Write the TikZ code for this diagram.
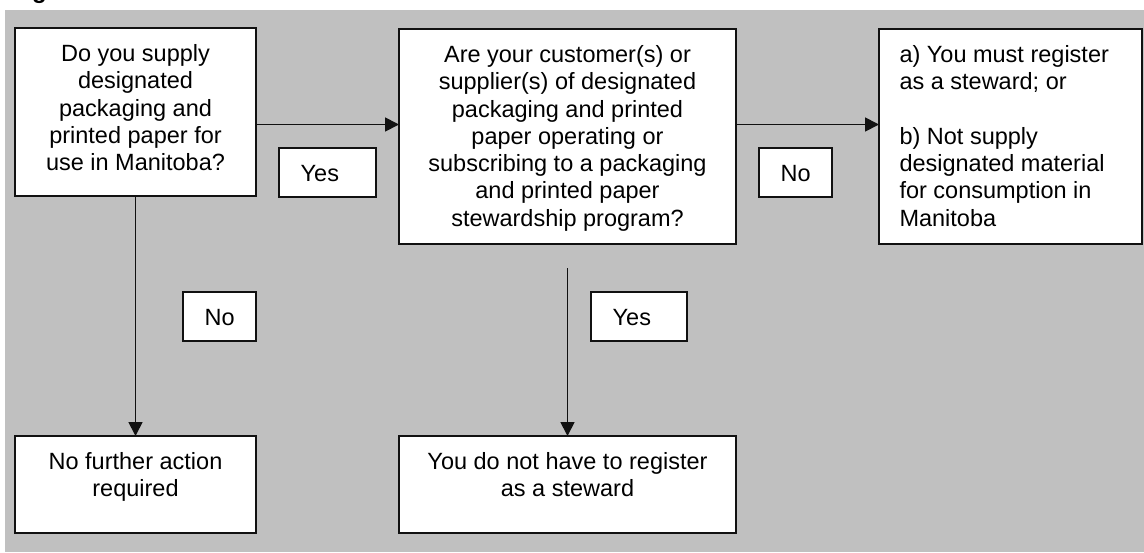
\documentclass[tikz,border=0pt]{standalone}
\usepackage{fontspec}
\setmainfont{Liberation Sans}
\usetikzlibrary{arrows.meta}

\definecolor{panel}{HTML}{C0C0C0}
\definecolor{ink}{HTML}{111111}

\begin{document}
\begin{tikzpicture}[x=1pt, y=-1pt,
  card/.style={draw=ink, line width=1.8pt, fill=white, anchor=north west,
               inner sep=0pt, outer sep=0pt},
  body/.style={font=\fontsize{23.5}{27.25}\selectfont, inner sep=0pt,
               text=black},
  flow/.style={draw=ink, line width=1.8pt,
               -{Triangle[length=14pt, width=14pt]}},
]
% page and grey panel
\useasboundingbox (0,0) rectangle (1144,552);
\clip (0,0) rectangle (1144,552);
\fill[panel] (5,10) rectangle (1144,552);

% heading above the panel (only its lower part fits on the page)
\node[font=\bfseries\fontsize{24}{28}\selectfont, inner sep=0pt,
      anchor=base west] (head) at (32,-1.5) {g};

% decision and outcome boxes
\node[card, minimum width=241pt, minimum height=168pt] (b1) at (15,28) {};
\node[card, minimum width=337pt, minimum height=215pt] (b2) at (399,29) {};
\node[card, minimum width=263pt, minimum height=215pt] (b3) at (879,29) {};
\node[card, minimum width=241pt, minimum height=97pt]  (b4) at (15,436) {};
\node[card, minimum width=337pt, minimum height=97pt]  (b5) at (399,436) {};

% answer tags
\node[card, minimum width=97pt, minimum height=49pt] (yes1) at (279,148) {};
\node[card, minimum width=73pt, minimum height=49pt] (no1)  at (759,148) {};
\node[card, minimum width=73pt, minimum height=49pt] (no2)  at (183,292) {};
\node[card, minimum width=96pt, minimum height=49pt] (yes2) at (591,292) {};

% box texts (first baseline 33.4pt below the top edge)
\node[body, anchor=north, align=center] (t1) at ([yshift=-13.4pt]b1.north)
  {\rule{0pt}{20pt}Do you supply\\designated\\packaging and\\printed paper for\\use in Manitoba?};
\node[body, anchor=north, align=center] (t2) at ([yshift=-13.4pt]b2.north)
  {\rule{0pt}{20pt}Are your customer(s) or\\supplier(s) of designated\\packaging and printed\\paper operating or\\subscribing to a packaging\\and printed paper\\stewardship program?};
\node[body, anchor=north west, align=left] (t3) at ([xshift=20.3pt, yshift=-13.4pt]b3.north west)
  {\rule{0pt}{20pt}a) You must register\\as a steward; or\\[27.25pt]b) Not supply\\designated material\\for consumption in\\Manitoba};
\node[body, anchor=north, align=center] (t4) at ([yshift=-13.4pt]b4.north)
  {\rule{0pt}{20pt}No further action\\required};
\node[body, anchor=north, align=center] (t5) at ([yshift=-13.4pt]b5.north)
  {\rule{0pt}{20pt}You do not have to register\\as a steward};

% tag texts
\node[body, anchor=base west] (ty1) at ([xshift=21.5pt, yshift=-33.4pt]yes1.north west) {Yes};
\node[body, anchor=base west] (tn1) at ([xshift=21.5pt, yshift=-33.4pt]no1.north west) {No};
\node[body, anchor=base west] (tn2) at ([xshift=21.5pt, yshift=-33.4pt]no2.north west) {No};
\node[body, anchor=base west] (ty2) at ([xshift=21.5pt, yshift=-33.4pt]yes2.north west) {Yes};

% connectors
\coordinate (row) at (0,124.5);
\coordinate (drop) at (567.5,268);
\draw[flow] (b1.east |- row) -- (b2.west |- row);
\draw[flow] (b2.east |- row) -- (b3.west |- row);
\draw[flow] (b1.south) -- (b4.north);
\draw[flow] (drop) -- (b5.north);
\end{tikzpicture}
\end{document}
